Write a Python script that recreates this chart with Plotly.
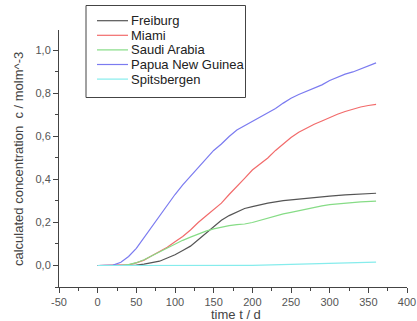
import plotly.graph_objects as go

# time values (days) and concentrations
t_freiburg = [0, 40, 50, 60, 70, 80, 90, 100, 110, 120, 130, 140, 150, 160, 170, 180, 190, 200,
              220, 240, 260, 280, 300, 320, 340, 360]
c_freiburg = [0, 0, 0.002, 0.006, 0.012, 0.02, 0.035, 0.05, 0.07, 0.09, 0.12, 0.15, 0.183, 0.21,
              0.232, 0.25, 0.265, 0.274, 0.29, 0.302, 0.31, 0.318, 0.323, 0.328, 0.332, 0.336]

t_miami = [0, 30, 40, 50, 60, 70, 80, 90, 100, 110, 120, 130, 140, 150, 160, 170, 180, 190, 200,
           210, 220, 230, 240, 250, 260, 270, 280, 290, 300, 310, 320, 330, 340, 350, 360]
c_miami = [0, 0, 0.003, 0.012, 0.025, 0.045, 0.065, 0.085, 0.11, 0.135, 0.165, 0.2, 0.23, 0.258,
           0.29, 0.33, 0.37, 0.405, 0.444, 0.47, 0.5, 0.535, 0.565, 0.595, 0.62, 0.64, 0.657, 0.672,
           0.688, 0.703, 0.716, 0.727, 0.737, 0.744, 0.749]

t_saudi = [0, 30, 40, 50, 60, 70, 80, 90, 100, 110, 120, 130, 140, 150, 160, 170, 180, 190, 200,
           210, 220, 230, 240, 250, 260, 270, 280, 290, 300, 320, 340, 360]
c_saudi = [0, 0, 0.004, 0.013, 0.027, 0.045, 0.065, 0.082, 0.1, 0.117, 0.132, 0.147, 0.16, 0.17,
           0.178, 0.185, 0.19, 0.193, 0.2, 0.21, 0.222, 0.232, 0.24, 0.247, 0.255, 0.263, 0.27,
           0.277, 0.283, 0.291, 0.296, 0.299]

t_papua = [0, 15, 20, 30, 40, 50, 60, 70, 80, 90, 100, 110, 120, 130, 140, 150, 160, 170, 180,
           190, 200, 210, 220, 230, 240, 250, 260, 270, 280, 290, 300, 310, 320, 330, 340, 350, 360]
c_papua = [0, 0, 0.002, 0.015, 0.042, 0.08, 0.13, 0.18, 0.235, 0.28, 0.33, 0.375, 0.415, 0.46,
           0.5, 0.535, 0.565, 0.6, 0.63, 0.65, 0.668, 0.69, 0.71, 0.73, 0.755, 0.778, 0.795, 0.81,
           0.825, 0.84, 0.86, 0.875, 0.89, 0.9, 0.915, 0.928, 0.942]

t_spits = [0, 100, 200, 250, 300, 360]
c_spits = [0, 0, 0.001, 0.005, 0.01, 0.016]

names = ["Freiburg", "Miami", "Saudi Arabia", "Papua New Guinea", "Spitsbergen"]
colors = ["#555555", "#f26b6b", "#86dc86", "#7b7bf0", "#86ecec"]
data_t = [t_freiburg, t_miami, t_saudi, t_papua, t_spits]
data_c = [c_freiburg, c_miami, c_saudi, c_papua, c_spits]

x_ticks = [-50, 0, 50, 100, 150, 200, 250, 300, 350, 400]
x_labels = ["-50", "0", "50", "100", "150", "200", "250", "300", "350", "400"]
y_ticks = [0.0, 0.2, 0.4, 0.6, 0.8, 1.0]
y_labels = ["0,0", "0,2", "0,4", "0,6", "0,8", "1,0"]

# plot area in pixels (for placing the legend box / titles in paper coords)
L, R, T, B = 59, 407, 30, 287
W, H = R - L, B - T


def px(xp):
    return (xp - L) / W


def py(yp):
    return (B - yp) / H


fig = go.Figure()
for name, t, c, col in zip(names, data_t, data_c, colors):
    fig.add_trace(go.Scatter(x=t, y=c, mode="lines", name=name, showlegend=False,
                             line=dict(color=col, width=1.2)))

fam = "Liberation Sans, Arial, sans-serif"
axis_font = dict(family=fam, size=11, color="#555555")

shapes = [dict(type="rect", xref="paper", yref="paper",
               x0=px(86), x1=px(245.5), y0=py(97.5), y1=py(5.5),
               line=dict(color="#444444", width=1), fillcolor="white", layer="above")]
annotations = []
for i, (name, col) in enumerate(zip(names, colors)):
    yy = 20.7 + 14.6 * i
    shapes.append(dict(type="line", xref="paper", yref="paper",
                       x0=px(97), x1=px(128), y0=py(yy), y1=py(yy),
                       line=dict(color=col, width=1.2), layer="above"))
    annotations.append(dict(text=name, xref="paper", yref="paper", x=px(129), y=py(yy),
                            xanchor="left", yanchor="middle", showarrow=False,
                            font=dict(family=fam, size=13, color="#222222")))

annotations.append(dict(text="time t / d", xref="paper", yref="paper", x=px(236), y=py(314),
                        xanchor="center", yanchor="middle", showarrow=False,
                        font=dict(family=fam, size=13, color="#444444")))
annotations.append(dict(text="calculated concentration\u00a0\u00a0c / molm^-3", xref="paper",
                        yref="paper", x=px(18), y=py(159), xanchor="center", yanchor="middle",
                        textangle=-90, showarrow=False,
                        font=dict(family=fam, size=13, color="#444444")))

fig.update_layout(
    width=417, height=321,
    margin=dict(l=L, r=417 - R, t=T, b=321 - B),
    paper_bgcolor="white", plot_bgcolor="white",
    font=dict(family=fam, color="#444444"),
    showlegend=False,
    shapes=shapes,
    annotations=annotations,
    xaxis=dict(range=[-50, 400], tickvals=x_ticks, ticktext=x_labels, ticks="outside", ticklen=5,
               tickcolor="#444444", showgrid=False, zeroline=False, automargin=False,
               showline=True, linecolor="#444444", linewidth=1,
               tickfont=axis_font,
               minor=dict(dtick=25, tick0=0, ticks="outside", ticklen=3, tickcolor="#444444")),
    yaxis=dict(range=[-0.1, 1.095], tickvals=y_ticks, ticktext=y_labels, ticks="outside",
               ticklen=5, tickcolor="#444444", showgrid=False, zeroline=False, automargin=False,
               showline=True, linecolor="#444444", linewidth=1,
               tickfont=axis_font,
               minor=dict(dtick=0.1, tick0=0, ticks="outside", ticklen=3, tickcolor="#444444")),
)

fig.write_html("out.html", config={"displayModeBar": False},
               post_script="document.body.style.margin='0';document.body.style.padding='0';")
